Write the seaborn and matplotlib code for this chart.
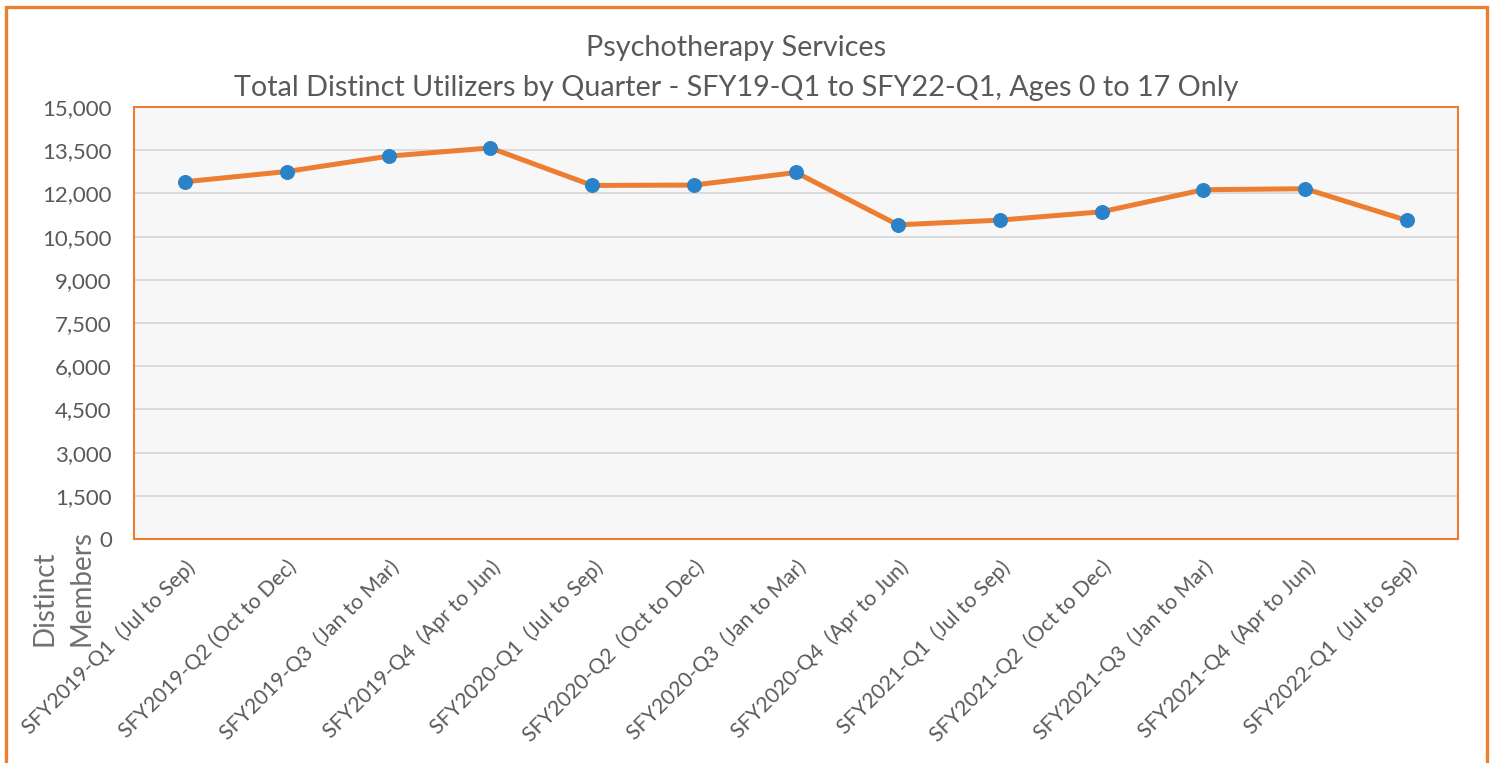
import matplotlib
matplotlib.use("Agg")
import matplotlib.pyplot as plt
import seaborn as sns
import pandas as pd
from matplotlib.ticker import FuncFormatter, MultipleLocator
from matplotlib.patches import Rectangle

categories = [
    "SFY2019-Q1  (Jul to Sep)",
    "SFY2019-Q2 (Oct to Dec)",
    "SFY2019-Q3  (Jan to Mar)",
    "SFY2019-Q4  (Apr to Jun)",
    "SFY2020-Q1  (Jul to Sep)",
    "SFY2020-Q2  (Oct to Dec)",
    "SFY2020-Q3  (Jan to Mar)",
    "SFY2020-Q4  (Apr to Jun)",
    "SFY2021-Q1  (Jul to Sep)",
    "SFY2021-Q2  (Oct to Dec)",
    "SFY2021-Q3  (Jan to Mar)",
    "SFY2021-Q4  (Apr to Jun)",
    "SFY2022-Q1  (Jul to Sep)",
]
distinct_members = [12404, 12760, 13293, 13579, 12276, 12290, 12726,
                    10908, 11072, 11361, 12128, 12162, 11060]

title_line1 = "Psychotherapy Services"
title_line2 = "Total Distinct Utilizers by Quarter - SFY19-Q1 to SFY22-Q1, Ages 0 to 17 Only"
y_label = "Distinct\nMembers"

ORANGE = "#ED7D31"
BLUE = "#2A83C8"
GRAY = "#595959"

sns.set_theme(style="white")
plt.rcParams['font.family'] = ['Lato', 'DejaVu Sans']

W, H = 1492, 763
fig = plt.figure(figsize=(W / 100, H / 100), dpi=100)
ax = fig.add_axes([134 / W, 1 - 539 / H, (1458 - 134) / W, (539 - 107) / H])

df = pd.DataFrame({"quarter": categories, "members": distinct_members})
sns.lineplot(data=df, x="quarter", y="members", ax=ax, color=ORANGE,
             linewidth=3.6, marker="o", markersize=10,
             markerfacecolor=BLUE, markeredgecolor=BLUE, sort=False)

ax.set_facecolor("#F7F7F7")
ax.set_ylim(0, 15000)
ax.set_xlim(-0.5, len(categories) - 0.5)
ax.yaxis.set_major_locator(MultipleLocator(1500))
ax.yaxis.set_major_formatter(FuncFormatter(lambda v, p: f"{int(v):,}"))
ax.grid(axis="y", color="#D9D9D9", linewidth=1.3)
ax.set_axisbelow(True)
for s in ax.spines.values():
    s.set_color(ORANGE)
    s.set_linewidth(1.5)
ax.tick_params(axis="both", length=0, colors=GRAY)
ax.tick_params(axis="y", pad=16, labelsize=16)
ax.tick_params(axis="x", pad=13, labelsize=15.2)
ax.set_xticks(range(len(categories)))
ax.set_xticklabels(categories, rotation=45, ha="right", rotation_mode="anchor")
ax.set_xlabel("")
ax.set_ylabel("")

fig.text(63 / W, 1 - 588 / H, y_label, rotation=90, ha="center", va="center",
         multialignment="left", color="#707070", fontsize=20, linespacing=1.5)

fig.text(736 / W, 1 - 48 / H, title_line1, ha="center", va="center",
         color=GRAY, fontsize=20.7)
fig.text(736 / W, 1 - 88 / H, title_line2, ha="center", va="center",
         color=GRAY, fontsize=20.7)

fig.patches.append(Rectangle((6 / W, -0.05), (1487 - 6) / W, 1.05 - 7 / H,
                             transform=fig.transFigure, fill=False,
                             edgecolor=ORANGE, linewidth=2.4))

fig.savefig("out.png", dpi=100, facecolor="white")
